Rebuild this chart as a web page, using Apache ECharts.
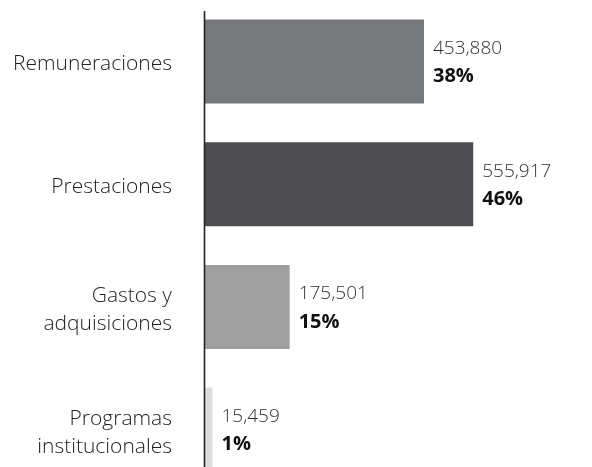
<!DOCTYPE html>
<html><head><meta charset="utf-8">
<script src="https://cdn.jsdelivr.net/npm/echarts@6/dist/echarts.min.js"></script>
<style>html,body{margin:0;padding:0;background:#fff}#c{width:592px;height:467px}</style>
</head><body><div id="c"></div>
<script>
const categories = ['Remuneraciones', 'Prestaciones', 'Gastos y\nadquisiciones', 'Programas\ninstitucionales'];
const values = [453880, 555917, 175501, 15459];
const percents = [38, 46, 15, 1];
const colors = ['#77787b', '#4d4d4f', '#a0a0a0', '#dcdddf'];

const chart = echarts.init(document.getElementById('c'));
const font = '"Open Sans", "Noto Sans", sans-serif';
chart.setOption({
  animation: false,
  grid: { left: 205, top: 0, right: 1, bottom: -24, outerBoundsMode: 'none', containLabel: false },
  xAxis: { type: 'value', min: 0, max: 800000, show: false },
  yAxis: {
    type: 'category', data: categories, inverse: true,
    axisLine: { show: false }, axisTick: { show: false },
    axisLabel: {
      margin: 33, align: 'right',
      formatter: v => '{s|}\n' + v.split('\n').map(s => '{c|' + s + '}').join('\n'),
      rich: {
        c: { fontFamily: font, fontWeight: 300, fontSize: 21, color: '#222', lineHeight: 28, align: 'right' },
        s: { fontSize: 1, lineHeight: 6 }
      }
    }
  },
  graphic: [{ type: 'line', shape: { x1: 204.5, y1: 11, x2: 204.5, y2: 467 }, style: { stroke: '#222', lineWidth: 1.6 }, z: 10 }],
  series: [{
    type: 'bar', barWidth: 84,
    data: values.map((v, i) => ({ value: v, itemStyle: { color: colors[i] } })),
    label: {
      show: true, position: 'right', distance: 9, offset: [0, 1],
      formatter: p => '{v|' + p.value.toLocaleString('en-US') + '}\n{p|' + percents[p.dataIndex] + '%}',
      rich: {
        v: { fontFamily: font, fontWeight: 300, fontSize: 19, color: '#333', lineHeight: 28 },
        p: { fontFamily: font, fontWeight: 'bold', fontSize: 20, color: '#111', lineHeight: 28 }
      }
    }
  }]
});
</script></body></html>
